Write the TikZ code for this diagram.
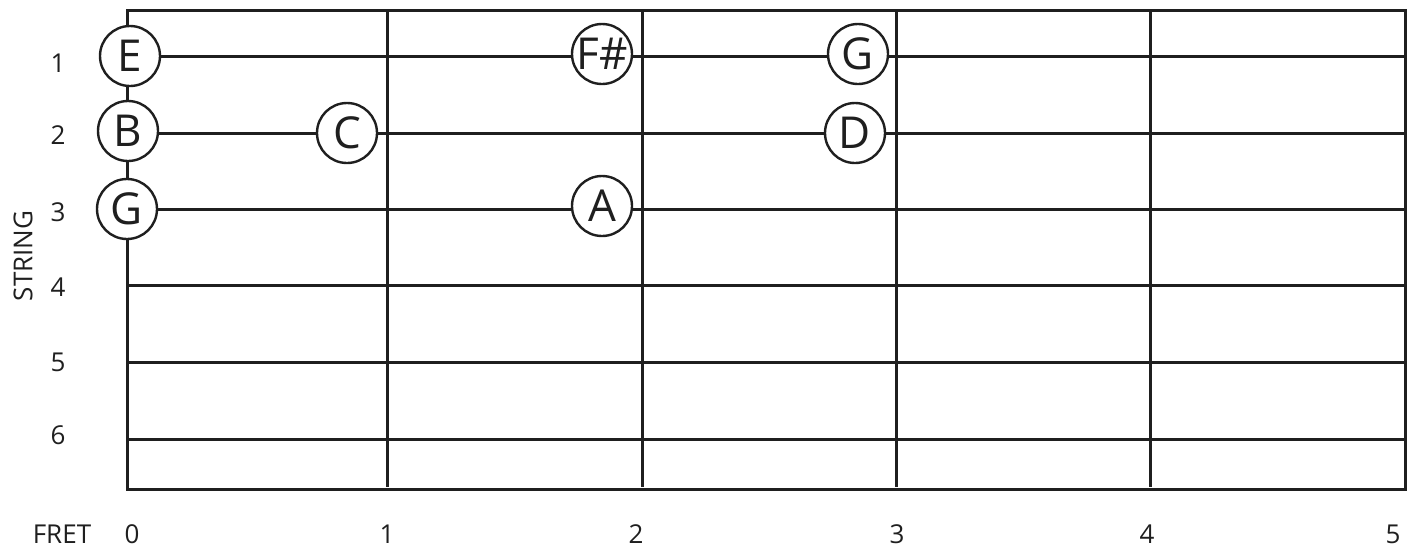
\documentclass[tikz,border=0pt]{standalone}
\usepackage{fontspec}
\setmainfont{Open Sans}
\begin{document}
\begin{tikzpicture}[x=1pt,y=-1pt,
  grid/.style={line width=3pt, color=black!88},
  note/.style={circle, draw=black!88, fill=white, line width=2.4pt, minimum size=60pt, inner sep=0pt,
    font=\fontsize{44}{50}\selectfont, text height=31pt, text depth=0pt, text=black!88},
  lbl/.style={font=\fontsize{26}{30}\selectfont, text=black!88, inner sep=0pt}]
\useasboundingbox (0,0) rectangle (1414,550);
% frets
\foreach \x in {387,642,896,1150} \draw[grid] (\x,9) -- (\x,487);
% strings
\foreach \y in {56,133,209,285,362,439} \draw[grid] (127,\y) -- (1405,\y);
% box
\draw[grid] (127,10.5) rectangle (1405,489);
% notes
\node[note] (nE) at (130,56) {E};
\node[note] (nB) at (128,131) {B};
\node[note] (nG) at (127,209) {G};
\node[note] (nC) at (347,133) {C};
\node[note] (nFs) at (602,54) {F\#};
\node[note] (nA) at (602,206) {A};
\node[note] (nGg) at (858,54) {G};
\node[note] (nD) at (855,133) {D};
% string labels
\node[lbl] (s1) at (58,63) {1};
\node[lbl] (s2) at (58,135) {2};
\node[lbl] (s3) at (58,212) {3};
\node[lbl] (s4) at (58,287) {4};
\node[lbl] (s5) at (58,362) {5};
\node[lbl] (s6) at (58,435) {6};
\node[lbl, rotate=90] (str) at (23,256) {STRING};
% fret labels
\node[lbl] (fret) at (62,534) {FRET};
\node[lbl] (f0) at (132,534) {0};
\node[lbl] (f1) at (387,534) {1};
\node[lbl] (f2) at (636,534) {2};
\node[lbl] (f3) at (897,534) {3};
\node[lbl] (f4) at (1147,534) {4};
\node[lbl] (f5) at (1393,534) {5};
\end{tikzpicture}
\end{document}
